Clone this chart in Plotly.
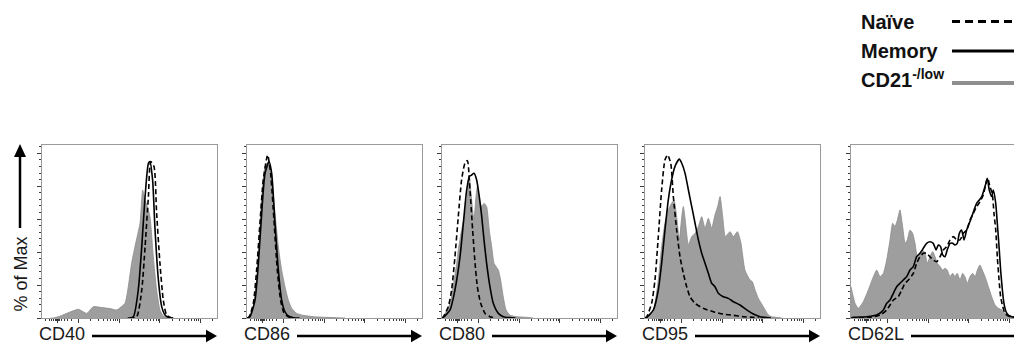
import math
import plotly.graph_objects as go

W, H = 1014, 345

markers = ["CD40", "CD86", "CD80", "CD95", "CD62L"]
legend_labels = ["Naïve", "Memory", "CD21<sup>-/low</sup>"]
y_title = "% of Max"

# ---- CD40 ----
cd40_naive_x = [50, 54.1, 57.0, 58.9, 60.8, 62.1, 64.0, 65.5, 67.4, 69.3, 71.2, 74]
cd40_naive_y = [0, 0.8, 17.0, 43.3, 73.7, 94.9, 91.9, 63.6, 33.2, 10.9, 1.8, 0]
cd40_memory_x = [49, 52.2, 55.0, 57.0, 58.9, 60.8, 61.7, 63.2, 64.6, 66.5, 68.4, 70.3, 72.2, 75]
cd40_memory_y = [0, 0.8, 17.0, 43.3, 73.7, 93.9, 94.9, 83.8, 53.4, 23.1, 6.9, 1.8, 0.4, 0]
cd40_cd21_x = [5, 6.5, 10, 15.0, 20.8, 25.5, 29.3, 33.1, 38.9, 42.7, 47.4, 49.3, 51.2, 53.1,
               56.0, 57.5, 58.8, 60.2, 61.7, 63.6, 65.5, 67.4, 69.3, 72]
cd40_cd21_y = [0, 0, 1.0, 3.2, 5.3, 2.8, 6.9, 6.5, 5.7, 4.9, 8.9, 19.0, 33.2, 43.3,
               57.5, 77.7, 72.0, 67.6, 61.5, 37.2, 17.0, 4.9, 1.2, 0]

# ---- CD86 ----
cd86_naive_x = [0, 1.3, 3.6, 5.5, 7.4, 9.3, 11.8, 13.5, 15.4, 17.3, 19.2, 21.1, 23.6, 27]
cd86_naive_y = [0, 0.8, 8.9, 29.1, 57.5, 83.8, 99.0, 87.8, 59.5, 29.1, 10.9, 3.2, 0.8, 0]
cd86_memory_x = [0, 1.7, 4.6, 6.5, 8.4, 10.3, 12.6, 14.1, 16.0, 17.9, 19.8, 21.7, 23.6, 26.5, 30]
cd86_memory_y = [0, 0.8, 10.9, 33.2, 63.6, 87.8, 94.9, 87.8, 57.5, 29.1, 10.9, 3.8, 1.2, 0.2, 0]
cd86_cd21_x = [0, 0.8, 3.6, 5.5, 7.0, 8.4, 10.3, 12.2, 14.1, 16.0, 17.9, 19.8, 21.7, 23.6,
               25.5, 28.4, 32.2, 37.9, 45.5, 51.2, 56]
cd86_cd21_y = [0, 0.4, 6.9, 23.1, 47.4, 73.7, 91.9, 94.9, 83.8, 63.6, 43.3, 29.1, 19.0, 10.9,
               5.9, 2.8, 1.6, 0.8, 0.4, 0.2, 0]

# ---- CD80 ----
cd80_naive_x = [0, 0.8, 3.6, 5.5, 7.4, 9.3, 11.2, 13.1, 14.5, 16.0, 17.5, 18.9, 20.2, 22.1, 24.6, 27.4, 30]
cd80_naive_y = [0, 0.8, 6.9, 17.0, 37.2, 61.5, 83.8, 93.9, 95.5, 77.7, 53.4, 33.2, 19.0, 8.9, 2.8, 0.8, 0]
cd80_memory_x = [0, 0.8, 4.6, 7.4, 10.3, 12.2, 14.1, 15.6, 17.0, 18.3, 19.8, 21.3, 22.7, 24.0,
                 25.5, 27.4, 29.3, 32.2, 35.0, 38.9, 42]
cd80_memory_y = [0, 0.4, 4.9, 17.0, 37.2, 57.5, 77.7, 85.8, 86.8, 87.8, 83.8, 73.7, 61.5, 47.4,
                 33.2, 19.0, 8.9, 2.8, 0.8, 0.2, 0]
cd80_cd21_x = [0, 0.8, 4.6, 8.4, 9.3, 11.2, 13.1, 14.5, 15.6, 16.4, 17.5, 18.3, 19.4, 20.2, 21.3,
               22.7, 24.0, 25.5, 27.0, 28.4, 29.7, 30.9, 32.2, 33.5, 35.0, 36.6, 38.9, 42.7, 48.4, 52]
cd80_cd21_y = [0, 0.8, 8.9, 33.2, 41.3, 53.4, 63.6, 73.7, 85.8, 77.7, 65.6, 59.5, 73.7, 79.7, 71.6,
               67.6, 69.6, 67.6, 53.4, 43.3, 33.2, 31.2, 29.1, 23.1, 12.9, 4.9, 1.6, 0.8, 0.4, 0]

# ---- CD95 ----
cd95_naive_x = [0, 1.0, 3.8, 5.7, 7.6, 9.5, 11.4, 12.9, 14.7, 16.2, 18.1, 20.0, 21.9, 23.8, 25.7,
                28.6, 33.3, 39.0, 44.7, 50.5, 56.2, 61.9, 65]
cd95_naive_y = [0, 0.8, 8.9, 23.1, 49.4, 77.7, 95.9, 99.0, 93.9, 73.7, 53.4, 37.2, 27.1, 19.0, 12.9,
                8.9, 5.9, 3.8, 2.4, 1.6, 0.8, 0.4, 0]
cd95_memory_x = [0, 1.0, 4.8, 7.6, 9.5, 11.4, 13.3, 15.2, 17.1, 19.6, 21.0, 22.9, 24.8, 26.7, 28.6,
                 30.5, 32.4, 34.3, 36.2, 38.1, 40.0, 41.9, 44.7, 47.6, 50.5, 54.3, 58.1, 61.9,
                 65.7, 69.5, 72]
cd95_memory_y = [0, 0.4, 4.9, 17.0, 33.2, 53.4, 71.6, 83.8, 91.9, 96.4, 93.9, 87.8, 77.7, 67.6, 57.5,
                 47.4, 39.3, 33.2, 27.1, 21.1, 19.0, 15.0, 12.9, 11.9, 9.9, 7.9, 4.9, 2.4,
                 0.8, 0.2, 0]
cd95_cd21_x = [0, 1.0, 4.8, 7.6, 9.5, 11.4, 13.3, 15.2, 16.6, 18.1, 19.6, 21.0, 21.9, 23.0, 24.8,
               26.7, 28.6, 30.5, 32.4, 34.3, 36.2, 38.1, 40.0, 41.5, 42.9, 44.4, 45.9, 48.6, 50.5,
               52.8, 54.7, 57.1, 60.0, 61.3, 62.9, 64.8, 67.6, 70.5, 72.4, 75.2, 78]
cd95_cd21_y = [0, 0.4, 4.9, 23.1, 43.3, 57.5, 65.6, 69.6, 71.6, 61.5, 47.4, 61.5, 67.6, 59.5, 44.3,
               49.4, 51.4, 55.5, 61.5, 54.5, 60.5, 54.5, 62.5, 67.6, 73.7, 61.5, 49.4, 52.4, 49.4,
               52.4, 46.3, 29.1, 23.1, 22.1, 17.0, 11.9, 6.9, 1.8, 0.8, 0.4, 0]

# ---- CD62L ----
cd62l_naive_x = [0, 10.8, 16.6, 20.4, 24.2, 27.0, 29.0, 30.9, 32.8, 35.6, 37.5, 39.4, 41.3, 43.2,
                 45.1, 47.0, 49.0, 50.9, 52.7, 54.7, 56.6, 58.5, 60.4, 62.3, 64.2, 66.1, 68.0,
                 69.9, 71.8, 73.7, 75.6, 77.1, 78.1, 79.4, 80.7, 81.7, 82.7, 83.6, 84.6, 85.5,
                 86.7, 88.0, 89.9, 92.7, 97]
cd62l_naive_y = [0, 0.4, 1.8, 4.9, 10.9, 12.9, 17.0, 21.1, 23.1, 27.1, 33.2, 37.2, 39.3, 39.3,
                 37.2, 35.2, 34.2, 37.2, 41.3, 43.3, 47.4, 49.4, 47.4, 47.4, 51.4, 53.4, 59.5,
                 63.6, 67.6, 70.6, 74.7, 81.8, 84.8, 79.7, 75.7, 63.6, 53.4, 37.2, 23.1, 12.9,
                 6.9, 2.8, 1.2, 0.4, 0]
cd62l_memory_x = [0, 1.3, 9.0, 14.7, 18.5, 20.4, 22.3, 24.2, 26.1, 28.0, 29.9, 31.8, 33.7, 35.6,
                  37.5, 39.4, 41.3, 43.2, 45.1, 47.0, 48.6, 49.9, 51.2, 52.4, 53.7, 55.0, 56.6,
                  58.1, 59.4, 60.7, 61.9, 63.2, 64.6, 66.1, 67.6, 69.0, 70.3, 71.8, 73.3, 74.7,
                  76.0, 77.1, 77.9, 79.0, 80.4, 81.3, 82.7, 83.6, 84.6, 85.5, 86.5, 87.4, 88.6,
                  89.9, 91.8, 93.7, 97]
cd62l_memory_y = [0, 0.4, 0.8, 1.8, 4.9, 8.9, 10.9, 15.0, 19.0, 21.1, 23.1, 25.1, 29.1, 31.2,
                  37.2, 39.3, 42.3, 45.3, 46.3, 45.3, 41.3, 44.3, 43.3, 38.3, 37.2, 41.3, 45.3,
                  45.3, 44.3, 45.3, 51.4, 53.4, 47.4, 53.4, 57.5, 61.5, 65.6, 69.6, 71.6, 73.7,
                  77.7, 81.8, 84.8, 77.7, 73.7, 77.7, 69.6, 57.5, 43.3, 29.1, 17.0, 8.9, 3.8,
                  1.8, 0.8, 0.4, 0]
cd62l_cd21_x = [0, 2.3, 4.2, 7.0, 9.9, 12.8, 14.7, 16.6, 18.5, 20.4, 22.3, 23.8, 25.1, 26.5, 28.0,
                29.5, 30.9, 32.2, 33.7, 35.2, 36.6, 37.9, 39.4, 40.9, 42.3, 43.6, 45.1, 46.7,
                48.0, 49.3, 50.9, 52.4, 53.7, 55.0, 56.6, 58.1, 59.4, 60.7, 62.3, 63.8, 65.1,
                66.5, 68.0, 69.5, 70.9, 72.2, 73.7, 75.0, 76.6, 78.5, 80.4, 82.3, 84.2, 86.1,
                88.0, 90.9, 92.7, 96, 100]
cd62l_cd21_y = [19.0, 8.9, 5.9, 9.9, 17.0, 25.1, 29.1, 25.1, 27.1, 35.2, 47.4, 57.5, 55.5, 59.5,
                65.6, 55.5, 45.3, 47.4, 53.4, 51.4, 45.3, 37.2, 39.3, 41.3, 39.3, 33.2, 37.2,
                40.3, 37.2, 33.2, 31.2, 29.1, 30.2, 29.1, 25.1, 27.1, 25.1, 27.1, 23.1, 27.1,
                25.1, 21.1, 25.1, 27.1, 25.1, 29.1, 32.2, 29.1, 25.1, 19.0, 12.9, 7.9, 5.9,
                4.9, 2.8, 1.4, 0.8, 0.2, 0]

panel_data = [
    ((cd40_naive_x, cd40_naive_y), (cd40_memory_x, cd40_memory_y), (cd40_cd21_x, cd40_cd21_y)),
    ((cd86_naive_x, cd86_naive_y), (cd86_memory_x, cd86_memory_y), (cd86_cd21_x, cd86_cd21_y)),
    ((cd80_naive_x, cd80_naive_y), (cd80_memory_x, cd80_memory_y), (cd80_cd21_x, cd80_cd21_y)),
    ((cd95_naive_x, cd95_naive_y), (cd95_memory_x, cd95_memory_y), (cd95_cd21_x, cd95_cd21_y)),
    ((cd62l_naive_x, cd62l_naive_y), (cd62l_memory_x, cd62l_memory_y), (cd62l_cd21_x, cd62l_cd21_y)),
]

# ---- layout geometry (pixels) ----
panel_left = [42, 247, 442, 645, 851]
panel_w = 175
panel_top, panel_bottom = 145, 318

FONT = "Arial, Liberation Sans, sans-serif"
GRAY_FILL = "#9e9e9e"
GRAY_EDGE = "#8a8a8a"
BOX = "#9a9a9a"
TICK = "#3a3a3a"


def px(x):
    return x / W


def py(y):
    return 1 - y / H


# x ticks (biexponential-looking decades)
decade = 23.2
major_x = [8.8] + [21 + decade * k for k in range(4)]
minor_x = [2, 4, 5.5, 6.5, 7.5, 8.2, 9.4, 10.2, 11.2, 12.6, 14.5, 17]
for d in major_x[1:]:
    for m in range(2, 10):
        v = d + decade * math.log10(m)
        if v < 100:
            minor_x.append(v)

fig = go.Figure()
layout = dict(
    width=W, height=H, margin=dict(l=0, r=0, t=0, b=0),
    paper_bgcolor="white", plot_bgcolor="white", showlegend=False,
    font=dict(family=FONT, color="#111"),
)

for i, (naive, memory, cd21) in enumerate(panel_data):
    n = i + 1
    xa = "x" if n == 1 else f"x{n}"
    ya = "y" if n == 1 else f"y{n}"
    left = panel_left[i]
    right = min(left + panel_w, W)
    xmax = 100 * (right - left) / panel_w

    fig.add_trace(go.Scatter(x=cd21[0], y=cd21[1], mode="lines", fill="tozeroy",
                             fillcolor=GRAY_FILL, line=dict(color=GRAY_EDGE, width=0.8, shape="spline", smoothing=0.5),
                             xaxis=xa, yaxis=ya, name="CD21-/low", hoverinfo="skip"))
    fig.add_trace(go.Scatter(x=naive[0], y=naive[1], mode="lines",
                             line=dict(color="black", width=1.6, dash="5px,3px", shape="spline", smoothing=0.6),
                             xaxis=xa, yaxis=ya, name="Naive", hoverinfo="skip"))
    fig.add_trace(go.Scatter(x=memory[0], y=memory[1], mode="lines",
                             line=dict(color="black", width=1.6, shape="spline", smoothing=0.6),
                             xaxis=xa, yaxis=ya, name="Memory", hoverinfo="skip"))

    layout["xaxis" if n == 1 else f"xaxis{n}"] = dict(
        domain=[px(left), px(right)], range=[0, xmax], anchor=ya,
        showline=True, linecolor=BOX, linewidth=1, mirror=True,
        showgrid=False, zeroline=False, showticklabels=False,
        tickmode="array", tickvals=major_x, ticks="outside", ticklen=4, tickwidth=1, tickcolor=TICK,
        minor=dict(tickmode="array", tickvals=minor_x, ticks="outside", ticklen=2, tickwidth=1, tickcolor=TICK),
    )
    layout["yaxis" if n == 1 else f"yaxis{n}"] = dict(
        domain=[py(panel_bottom), py(panel_top)], range=[0, 105], anchor=xa,
        showline=True, linecolor=BOX, linewidth=1, mirror=(n != 5),
        showgrid=False, zeroline=False, showticklabels=False,
        tickmode="linear", tick0=0, dtick=20, ticks="outside", ticklen=4, tickwidth=1, tickcolor=TICK,
        minor=dict(tick0=0, dtick=4, ticks="outside", ticklen=2, tickwidth=1, tickcolor=TICK),
    )

annotations = []
shapes = []

# x-axis labels with arrows
char_w = {"C": 0.722, "D": 0.722, "L": 0.556}
label_y = 334.0
for i, m in enumerate(markers):
    left = panel_left[i]
    right = left + panel_w
    tx = left - 5
    fs = 18
    tw = sum(char_w.get(c, 0.556) for c in m) * fs
    annotations.append(dict(text=m, x=px(tx), y=py(label_y), xref="paper", yref="paper",
                            xanchor="left", yanchor="middle", showarrow=False,
                            font=dict(size=fs, family=FONT, color="#1a1a1a")))
    x0 = tx + tw + 9
    ay = 336.0
    shapes.append(dict(type="line", xref="paper", yref="paper", x0=px(x0), x1=px(right - 8),
                       y0=py(ay), y1=py(ay), line=dict(color="black", width=2.5)))
    shapes.append(dict(type="path", xref="paper", yref="paper",
                       path=f"M {px(right - 11)} {py(ay - 6.3)} L {px(right)} {py(ay)} "
                            f"L {px(right - 11)} {py(ay + 6.3)} Z",
                       fillcolor="black", line=dict(color="black", width=0)))

# y-axis title with arrow
annotations.append(dict(text=y_title, x=px(20), y=py(274.5), xref="paper", yref="paper",
                        xanchor="center", yanchor="middle", textangle=-90, showarrow=False,
                        font=dict(size=18, family=FONT, color="#1a1a1a")))
shapes.append(dict(type="line", xref="paper", yref="paper", x0=px(20), x1=px(20),
                   y0=py(228), y1=py(154), line=dict(color="black", width=2.5)))
shapes.append(dict(type="path", xref="paper", yref="paper",
                   path=f"M {px(14)} {py(157)} L {px(20)} {py(144)} L {px(26)} {py(157)} Z",
                   fillcolor="black", line=dict(color="black", width=0)))

# legend
leg_line_y = [21.5, 51, 83]
leg_text_y = [21.5, 51, 78]
leg_styles = [dict(color="black", width=3, dash="8px,5px"),
              dict(color="black", width=3),
              dict(color="#8f8f8f", width=4)]
for lbl, ly, ty, st in zip(legend_labels, leg_line_y, leg_text_y, leg_styles):
    annotations.append(dict(text=f"<b>{lbl}</b>", x=px(859), y=py(ty), xref="paper", yref="paper",
                            xanchor="left", yanchor="middle", showarrow=False,
                            font=dict(size=20, family=FONT, color="#111")))
    shapes.append(dict(type="line", xref="paper", yref="paper", x0=px(952), x1=px(1016),
                       y0=py(ly), y1=py(ly), line=st))

layout["annotations"] = annotations
layout["shapes"] = shapes
fig.update_layout(**layout)
fig.write_html("out.html", config={"displayModeBar": False, "staticPlot": True},
               post_script="document.body.style.margin='0';document.body.style.padding='0';"
                           "document.documentElement.style.overflow='hidden';")
